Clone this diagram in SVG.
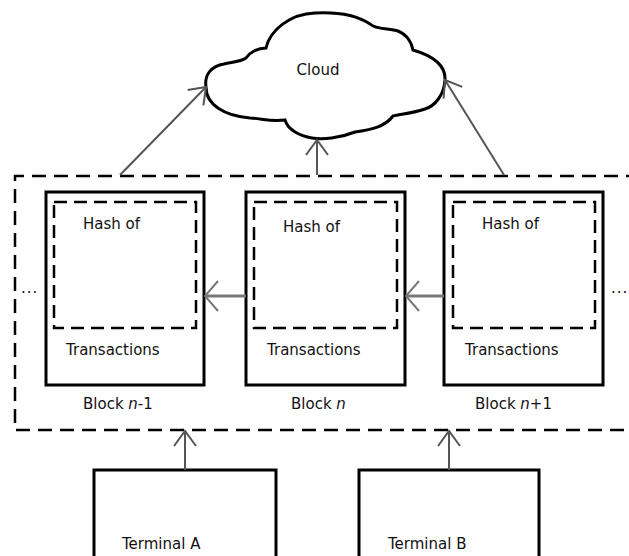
<svg xmlns="http://www.w3.org/2000/svg" width="629" height="556" viewBox="0 0 629 556">
<style>
  .t { font-family: "DejaVu Sans", Verdana, sans-serif; font-size: 15px; fill: #111; }
  .box { fill: #fff; stroke: #000; stroke-width: 3; }
  .dash { fill: none; stroke: #000; stroke-width: 2.5; stroke-dasharray: 14 8; }
  .idash { fill: none; stroke: #000; stroke-width: 2.5; stroke-dasharray: 13 7; }
  .arr { fill: none; stroke: #555; stroke-width: 2; marker-end: url(#ah); }
  .arrb { fill: none; stroke: #777; stroke-width: 3; marker-end: url(#ahb); }
</style>
<defs>
  <marker id="ah" markerUnits="userSpaceOnUse" markerWidth="30" markerHeight="30" viewBox="-20 -15 25 30" refX="0" refY="0" orient="auto" overflow="visible">
    <path d="M -15,-11 L 0,0 L -15,11" fill="none" stroke="#555" stroke-width="2"/>
  </marker>
  <marker id="ahb" markerUnits="userSpaceOnUse" markerWidth="30" markerHeight="30" viewBox="-20 -15 25 30" refX="0" refY="0" orient="auto" overflow="visible">
    <path d="M -13,-15 L 0,0 L -13,15" fill="none" stroke="#777" stroke-width="2"/>
  </marker>
</defs>
<rect width="629" height="556" fill="#fff"/>

<g id="chain">
  <path class="dash" d="M 640,176 H 15 V 430 H 640"/>
  <text class="t" x="21" y="293" letter-spacing="1">...</text>
  <text class="t" x="611" y="293" letter-spacing="1">...</text>
</g>

<g id="cloud">
  <path d="M 206,87 C 204,74 212,66 224,64 C 232,62 240,62 246,58 C 250,52 258,48 266,48 C 270,30 290,14 315,13 C 335,12 355,14 370,24 C 376,30 390,28 398,31 C 408,35 412,44 413,50 C 430,55 446,64 445,80 C 444,95 435,106 425,109 C 410,114 400,114 393,116 C 385,127 370,130 355,132 C 340,138 322,140 312,138 C 300,136 288,130 285,120 C 270,122 260,118 250,118 C 225,116 206,105 206,87 Z" fill="#fff" stroke="#000" stroke-width="3"/>
  <text class="t" x="318" y="75" text-anchor="middle">Cloud</text>
</g>

<g id="block-n-1">
  <rect class="box" x="46" y="192" width="158" height="193"/>
  <rect class="idash" x="54" y="202" width="142" height="126"/>
  <text class="t" x="83" y="229">Hash of</text>
  <text class="t" x="66" y="355">Transactions</text>
  <text class="t" x="83" y="409">Block <tspan font-style="italic">n</tspan>-1</text>
</g>

<g id="block-n">
  <rect class="box" x="246" y="192" width="159" height="193"/>
  <rect class="idash" x="254" y="202" width="143" height="126"/>
  <text class="t" x="283" y="232">Hash of</text>
  <text class="t" x="267" y="355">Transactions</text>
  <text class="t" x="291" y="409">Block <tspan font-style="italic">n</tspan></text>
</g>

<g id="block-n1">
  <rect class="box" x="444" y="192" width="159" height="193"/>
  <rect class="idash" x="453" y="202" width="142" height="126"/>
  <text class="t" x="482" y="229">Hash of</text>
  <text class="t" x="465" y="355">Transactions</text>
  <text class="t" x="475" y="409">Block <tspan font-style="italic">n</tspan>+1</text>
</g>

<g id="terminal-a">
  <rect class="box" x="94" y="470" width="182" height="100"/>
  <text class="t" x="122" y="549">Terminal A</text>
</g>

<g id="terminal-b">
  <rect class="box" x="359" y="470" width="180" height="100"/>
  <text class="t" x="388" y="549">Terminal B</text>
</g>

<g id="connectors">
  <line class="arr" x1="120" y1="175" x2="206" y2="87"/>
  <line class="arr" x1="317" y1="175" x2="317" y2="140"/>
  <line class="arr" x1="504" y1="175" x2="445" y2="80"/>
  <line class="arrb" x1="246" y1="296" x2="205" y2="296"/>
  <line class="arrb" x1="444" y1="296" x2="406" y2="296"/>
  <line class="arr" x1="185" y1="470" x2="185" y2="431"/>
  <line class="arr" x1="449" y1="470" x2="449" y2="431"/>
</g>
</svg>
